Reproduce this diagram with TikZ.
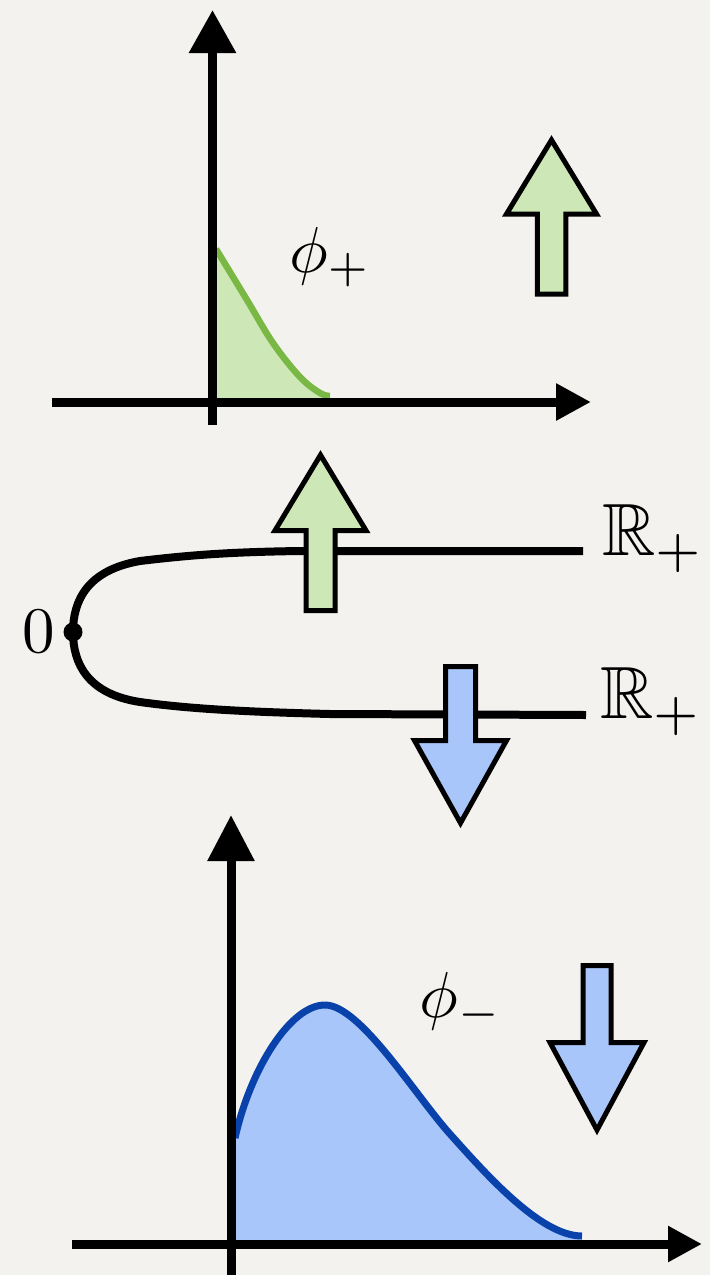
\documentclass[tikz,border=0pt]{standalone}
\usepackage{amssymb}
\usetikzlibrary{arrows.meta}
\definecolor{bgc}{RGB}{244,242,238}
\definecolor{gfill}{RGB}{205,232,182}
\definecolor{gline}{RGB}{122,184,70}
\definecolor{bfill}{RGB}{168,198,250}
\definecolor{bline}{RGB}{8,66,170}
\tikzset{
  axisline/.style={line width=9pt, black},
  bigarrow/.style={line width=5pt, draw=black, line join=miter, miter limit=10},
  lbl/.style={inner sep=0pt, outer sep=0pt, anchor=base},
  curveline/.style={line width=8pt, black},
}
\begin{document}
\begin{tikzpicture}[x=1pt, y=-1pt]
\useasboundingbox (0,0) rectangle (710,1275);
\fill[bgc] (0,0) rectangle (710,1275);

% ---------- top plot ----------
\fill[gfill] (213,398) -- (213,250) -- plot[smooth, tension=0.6] coordinates {(217,250) (247,300) (273,343) (300,377) (320,393) (330,396)} -- (330,398) -- cycle;
\draw[line width=6.5pt, gline] plot[smooth, tension=0.6] coordinates {(216,249) (247,300) (273,343) (300,377) (320,393) (330,396)};
\coordinate (tx0) at (52,402);
\coordinate (tx1) at (591,402);
\coordinate (ty0) at (212.5,425);
\coordinate (ty1) at (212.5,10);
\draw[axisline, -{Triangle[length=35pt,width=35pt]}] (tx0) -- (tx1);
\draw[axisline, -{Triangle[length=43pt,width=45pt]}] (ty0) -- (ty1);
\node[lbl, scale=6.5] (phip) at (330,272) {$\phi_+$};

\draw[bigarrow, fill=gfill] (551.5,140) -- (596.5,214) -- (565.75,214) -- (565.75,294) -- (537.25,294) -- (537.25,214) -- (506.5,214) -- cycle;

% ---------- middle ----------
\coordinate (zero) at (73,632);
\coordinate (uend) at (583,551);
\coordinate (lend) at (586,715);
\draw[curveline] (zero) .. controls (73,600) and (88,570) .. (140,561) .. controls (190,555) and (230,552) .. (300,551) -- (uend);
\draw[curveline] (zero) .. controls (73,664) and (88,694) .. (140,702) .. controls (190,709) and (250,712) .. (330,714) -- (lend);
\fill[black] (zero) circle (9.5pt);
\node[lbl, scale=6.5] (zlabel) at (39,652) {$0$};
\node[lbl, anchor=base west, scale=7.4] (rup) at (602,555) {$\mathbb{R}_+$};
\node[lbl, anchor=base west, scale=7.4] (rdn) at (600,718) {$\mathbb{R}_+$};

\draw[bigarrow, fill=gfill] (320.5,455) -- (366,530.5) -- (335,530.5) -- (335,610.5) -- (306,610.5) -- (306,530.5) -- (275,530.5) -- cycle;
\draw[bigarrow, fill=bfill] (460.5,823) -- (506.5,740.5) -- (475.5,740.5) -- (475.5,666.5) -- (445.5,666.5) -- (445.5,740.5) -- (414.5,740.5) -- cycle;

% ---------- bottom plot ----------
\fill[bfill] (235,1240) -- (235,1138) .. controls (250,1070) and (290,1005) .. (325,1005) .. controls (360,1005) and (415,1095) .. (450,1134) .. controls (485,1173) and (540,1236) .. (582,1236) -- (582,1240) -- cycle;
\draw[line width=7pt, bline] (235,1138) .. controls (250,1070) and (290,1005) .. (325,1005) .. controls (360,1005) and (415,1095) .. (450,1134) .. controls (485,1173) and (540,1236) .. (582,1236);
\coordinate (bx0) at (72,1244);
\coordinate (bx1) at (702,1244);
\coordinate (by0) at (231,1290);
\coordinate (by1) at (231,815);
\draw[axisline, -{Triangle[length=34pt,width=34pt]}] (bx0) -- (bx1);
\draw[axisline, -{Triangle[length=46pt,width=45pt]}] (by0) -- (by1);
\node[lbl, scale=6.5] (phim) at (461,1017) {$\phi_-$};

\draw[bigarrow, fill=bfill] (597,1130) -- (644,1042.5) -- (611,1042.5) -- (611,965.5) -- (583,965.5) -- (583,1042.5) -- (550,1042.5) -- cycle;
\end{tikzpicture}
\end{document}
